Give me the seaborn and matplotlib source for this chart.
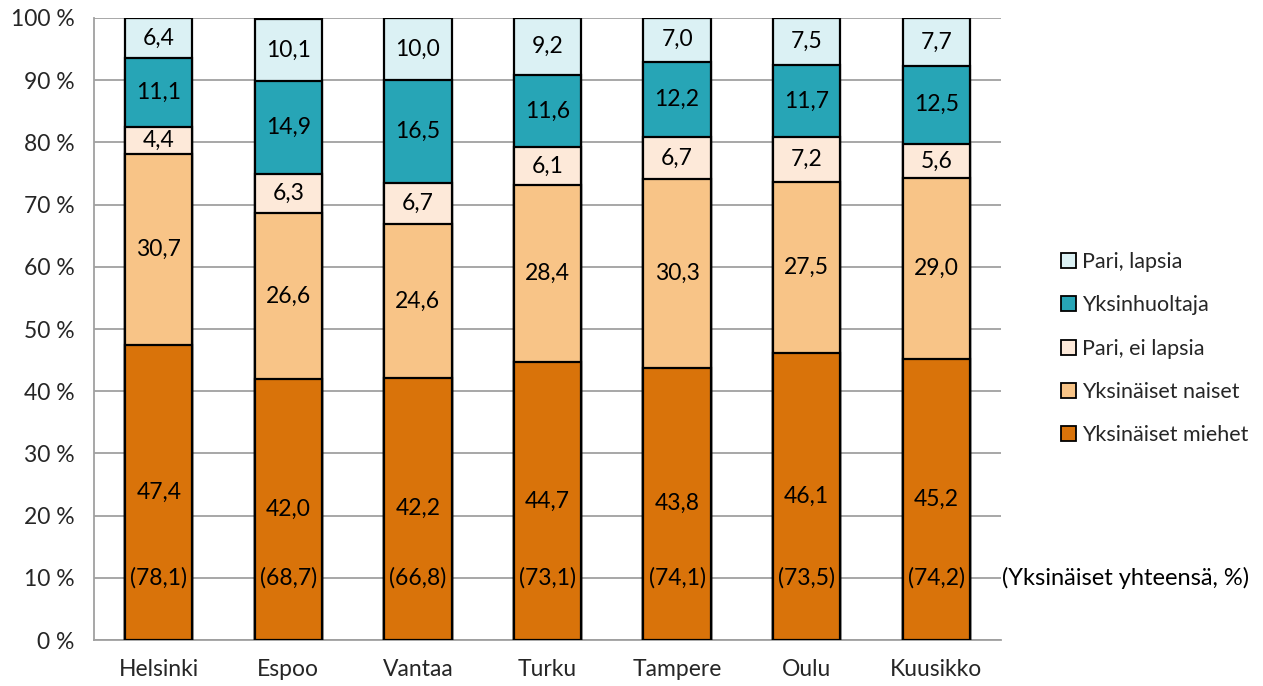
import matplotlib
matplotlib.use("Agg")
import matplotlib.pyplot as plt
import seaborn as sns
import numpy as np
import pandas as pd
from matplotlib.patches import Patch
from matplotlib.ticker import FixedLocator

cities = ["Helsinki", "Espoo", "Vantaa", "Turku", "Tampere", "Oulu", "Kuusikko"]
miehet = [47.4, 42.0, 42.2, 44.7, 43.8, 46.1, 45.2]
naiset = [30.7, 26.6, 24.6, 28.4, 30.3, 27.5, 29.0]
pari_ei = [4.4, 6.3, 6.7, 6.1, 6.7, 7.2, 5.6]
yksinhuoltaja = [11.1, 14.9, 16.5, 11.6, 12.2, 11.7, 12.5]
pari_lapsia = [6.4, 10.1, 10.0, 9.2, 7.0, 7.5, 7.7]
yksinaiset_yht = ["(78,1)", "(68,7)", "(66,8)", "(73,1)", "(74,1)", "(73,5)", "(74,2)"]

series_names = ["Yksinäiset miehet", "Yksinäiset naiset", "Pari, ei lapsia", "Yksinhuoltaja", "Pari, lapsia"]
series_vals = [miehet, naiset, pari_ei, yksinhuoltaja, pari_lapsia]
colors = ["#D9730A", "#F8C487", "#FDE9D9", "#27A5B6", "#DBF1F4"]

sns.set_theme(style="white")
plt.rcParams["font.family"] = ["Lato", "DejaVu Sans"]

fig = plt.figure(figsize=(12.63, 6.86), dpi=100)
ax = fig.add_axes([0.0744, 0.067, 0.7182, 0.9068])

data = np.array(series_vals)
cum = np.cumsum(data, axis=0)

for i in range(len(series_names) - 1, -1, -1):
    df = pd.DataFrame({"city": cities, "val": cum[i]})
    sns.barplot(data=df, x="city", y="val", color=colors[i], edgecolor="black",
                linewidth=1.6, width=0.52, errorbar=None, saturation=1, ax=ax, zorder=3)

fs = 16.5
for i in range(len(series_names)):
    for j in range(len(cities)):
        bottom = cum[i][j] - data[i][j]
        ax.text(j, bottom + data[i][j] / 2, f"{data[i][j]:.1f}".replace(".", ","),
                ha="center", va="center", fontsize=fs, color="black", zorder=5)

for j in range(len(cities)):
    ax.text(j, 10, yksinaiset_yht[j], ha="center", va="center", fontsize=fs, color="black", zorder=5)
ax.text(6.51, 10, "(Yksinäiset yhteensä, %)", ha="left", va="center", fontsize=17,
        color="black", clip_on=False, zorder=5)

ax.set_xlim(-0.5, 6.5)
ax.set_ylim(0, 100)
ax.set_yticks(np.arange(0, 101, 10))
ax.set_yticklabels([f"{v} %" for v in range(0, 101, 10)], fontsize=fs)
ax.set_xticks(range(len(cities)))
ax.set_xticklabels(cities, fontsize=fs)
ax.xaxis.set_minor_locator(FixedLocator(np.arange(-0.5, 7, 1)))
ax.tick_params(axis="x", which="major", length=0, pad=14)
ax.tick_params(axis="x", which="minor", length=8, color="#A0A0A0", width=1.3, direction="out")
ax.tick_params(axis="y", length=8, color="#A0A0A0", width=1.3, direction="out", pad=6)
ax.set_xlabel("")
ax.set_ylabel("")
ax.grid(axis="y", color="#A0A0A0", linewidth=1.3, zorder=0)
ax.set_axisbelow(True)
for s in ["top", "right"]:
    ax.spines[s].set_visible(False)
for s in ["left", "bottom"]:
    ax.spines[s].set_color("#A0A0A0")
    ax.spines[s].set_linewidth(1.3)

handles = [Patch(facecolor=colors[i], edgecolor="black", linewidth=1.3, label=series_names[i])
           for i in range(len(series_names) - 1, -1, -1)]
fig.legend(handles=handles, loc="upper left", bbox_to_anchor=(0.833, 0.645), frameon=False,
           fontsize=15.5, handlelength=0.7, handleheight=0.7, handletextpad=0.3,
           labelspacing=1.08, borderaxespad=0)

fig.savefig("out.png", dpi=100)
